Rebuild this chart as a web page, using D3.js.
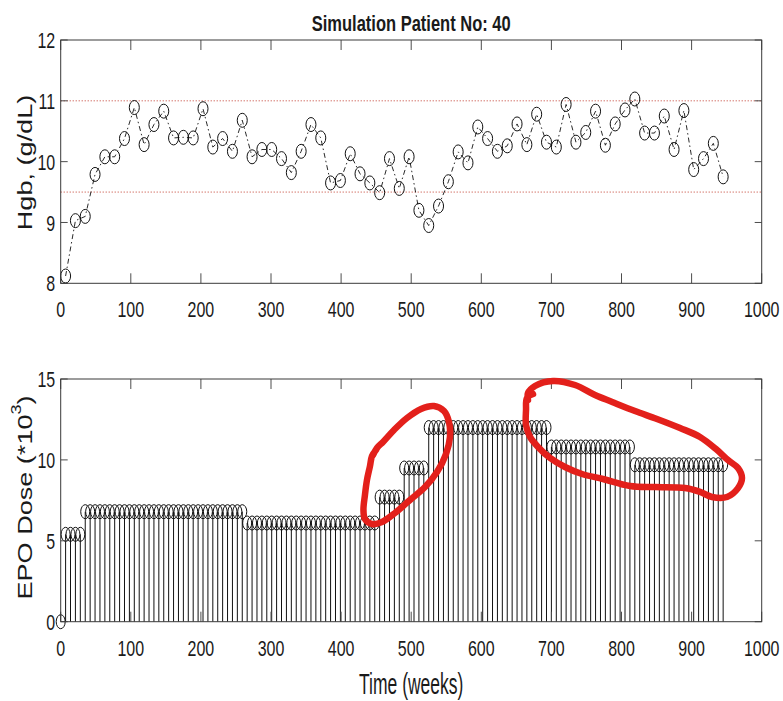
<!DOCTYPE html>
<html>
<head>
<meta charset="utf-8">
<script src="https://cdn.jsdelivr.net/npm/d3@7"></script>
<style>
  html, body { margin: 0; padding: 0; background: #fff; }
  svg { display: block; }
</style>
</head>
<body>
<script>
// ---- Data -------------------------------------------------------------
// Haemoglobin measured every 14 weeks, starting at week 7
const hgbWeeks = d3.range(7, 946, 14);
const hgbValues = [
  8.12, 9.03, 9.10, 9.79, 10.08, 10.08, 10.38, 10.89, 10.28, 10.61,
  10.83, 10.39, 10.40, 10.39, 10.87, 10.24, 10.38, 10.17, 10.68, 10.08,
  10.20, 10.20, 10.05, 9.82, 10.17, 10.61, 10.39, 9.65, 9.69, 10.13,
  9.80, 9.65, 9.49, 10.05, 9.56, 10.08, 9.20, 8.95, 9.27, 9.67,
  10.16, 9.98, 10.57, 10.38, 10.17, 10.26, 10.62, 10.28, 10.78, 10.32,
  10.24, 10.94, 10.32, 10.48, 10.83, 10.27, 10.62, 10.85, 11.03, 10.47,
  10.47, 10.75, 10.20, 10.84, 9.87, 10.05, 10.30, 9.75
];

// EPO dose (x1000 units) given every 7 weeks, starting at week 0
const doseWeeks = d3.range(0, 946, 7);
const doseValues = [
  0,
  5.4, 5.4, 5.4, 5.4,
  6.8, 6.8, 6.8, 6.8, 6.8, 6.8, 6.8, 6.8, 6.8, 6.8, 6.8,
  6.8, 6.8, 6.8, 6.8, 6.8, 6.8, 6.8, 6.8, 6.8, 6.8, 6.8,
  6.8, 6.8, 6.8, 6.8, 6.8, 6.8, 6.8, 6.8, 6.8, 6.8, 6.8,
  6.1, 6.1, 6.1, 6.1, 6.1, 6.1, 6.1, 6.1, 6.1, 6.1, 6.1, 6.1, 6.1, 6.1,
  6.1, 6.1, 6.1, 6.1, 6.1, 6.1, 6.1, 6.1, 6.1, 6.1, 6.1, 6.1, 6.1,
  7.7, 7.7, 7.7, 7.7, 7.7,
  9.5, 9.5, 9.5, 9.5, 9.5,
  12.0, 12.0, 12.0, 12.0, 12.0, 12.0, 12.0, 12.0, 12.0, 12.0, 12.0, 12.0, 12.0,
  12.0, 12.0, 12.0, 12.0, 12.0, 12.0, 12.0, 12.0, 12.0, 12.0, 12.0, 12.0,
  10.8, 10.8, 10.8, 10.8, 10.8, 10.8, 10.8, 10.8, 10.8,
  10.8, 10.8, 10.8, 10.8, 10.8, 10.8, 10.8, 10.8,
  9.7, 9.7, 9.7, 9.7, 9.7, 9.7, 9.7, 9.7, 9.7, 9.7,
  9.7, 9.7, 9.7, 9.7, 9.7, 9.7, 9.7, 9.7, 9.7
];

// Target haemoglobin range
const targetBand = [9.5, 11];

// Axis ticks
const timeTicks = [0, 100, 200, 300, 400, 500, 600, 700, 800, 900, 1000];
const hgbTicks = [8, 9, 10, 11, 12];
const doseTicks = [0, 5, 10, 15];

// Hand-drawn highlight loops, in (week, dose) units
const highlightA = [
  [449.8, 10.61], [444.1, 10.24], [441.2, 9.62], [436.9, 8.76], [434.0, 7.83],
  [431.9, 6.91], [434.0, 6.35], [444.1, 6.04], [458.3, 6.16], [476.9, 6.72],
  [498.3, 7.52], [519.7, 8.32], [536.8, 9.25], [549.6, 10.36], [555.3, 11.41],
  [553.9, 12.34], [546.8, 13.02], [532.5, 13.33], [514.0, 13.15], [494.0, 12.59],
  [475.5, 11.85], [459.8, 11.11], [451.2, 10.74], [445.5, 10.30]
];
const highlightB = [
  [673.8, 14.07], [665.2, 13.83], [663.8, 13.08], [663.8, 12.16], [669.5, 11.42],
  [680.9, 10.80], [698.0, 10.12], [719.4, 9.56], [743.7, 9.13], [773.6, 8.82],
  [812.1, 8.39], [847.8, 8.32], [890.6, 8.26], [912.0, 8.02], [929.1, 7.71],
  [950.5, 7.71], [966.2, 8.26], [971.9, 8.88], [966.2, 9.50], [951.9, 9.99],
  [934.8, 10.67], [912.0, 11.42], [883.5, 11.97], [850.6, 12.53], [819.3, 13.02],
  [786.7, 13.58], [762.2, 14.01], [733.7, 14.63], [702.3, 14.88], [676.6, 14.57],
  [666.6, 14.13], [666.6, 13.70]
];

// ---- Layout -----------------------------------------------------------
const W = 783, H = 701;
const plotLeft = 60.7, plotRight = 761.7;
const top1 = 40, bottom1 = 283.3;
const top2 = 379, bottom2 = 621.7;
const FONT = "'Liberation Sans', Arial, Helvetica, sans-serif";

const svg = d3.select("body").append("svg")
  .attr("width", W).attr("height", H)
  .attr("viewBox", `0 0 ${W} ${H}`);
svg.append("rect").attr("width", W).attr("height", H).attr("fill", "#fff");

const x = d3.scaleLinear().domain([0, 1000]).range([plotLeft, plotRight]);
const y1 = d3.scaleLinear().domain([8, 12]).range([bottom1, top1]);
const y2 = d3.scaleLinear().domain([0, 15]).range([bottom2, top2]);

// Text that is stretched vertically by factor s
function label(g, px, py, str, opt) {
  const o = Object.assign({ size: 15, s: 1.45, anchor: "middle", weight: "normal", rotate: 0 }, opt);
  const t = g.append("text")
    .attr("transform", `translate(${px},${py}) scale(1,${o.s})` + (o.rotate ? ` rotate(${o.rotate})` : ""))
    .attr("text-anchor", o.anchor)
    .attr("font-family", FONT)
    .attr("font-size", o.size)
    .attr("font-weight", o.weight)
    .attr("fill", "#1a1a1a");
  if (typeof str === "string") t.text(str);
  return t;
}

const TICK_SIZE = 16, TICK_S = 1.42;
const tickCap = 0.716 * TICK_SIZE * TICK_S;

function drawFrame(g, yScale, yTicks, top, bottom, xLabelBaseline) {
  const tickV = 10, tickH = 7;
  const tickCol = "#4d4d4d";
  // x ticks (inside, bottom and top)
  g.selectAll(null).data(timeTicks).join("line")
    .attr("x1", d => x(d)).attr("x2", d => x(d))
    .attr("y1", bottom).attr("y2", bottom - tickV)
    .attr("stroke", tickCol).attr("stroke-width", 1);
  g.selectAll(null).data(timeTicks).join("line")
    .attr("x1", d => x(d)).attr("x2", d => x(d))
    .attr("y1", top).attr("y2", top + tickV)
    .attr("stroke", tickCol).attr("stroke-width", 1);
  // y ticks (inside, left and right)
  g.selectAll(null).data(yTicks).join("line")
    .attr("x1", plotLeft).attr("x2", plotLeft + tickH)
    .attr("y1", d => yScale(d)).attr("y2", d => yScale(d))
    .attr("stroke", tickCol).attr("stroke-width", 1);
  g.selectAll(null).data(yTicks).join("line")
    .attr("x1", plotRight).attr("x2", plotRight - tickH)
    .attr("y1", d => yScale(d)).attr("y2", d => yScale(d))
    .attr("stroke", tickCol).attr("stroke-width", 1);
  // box
  g.append("rect")
    .attr("x", plotLeft).attr("y", top)
    .attr("width", plotRight - plotLeft).attr("height", bottom - top)
    .attr("fill", "none").attr("stroke", "#3a3a3a").attr("stroke-width", 1);
  // tick labels
  timeTicks.forEach(d => label(g, x(d), xLabelBaseline, String(d), { size: TICK_SIZE, s: TICK_S }));
  yTicks.forEach(d => label(g, plotLeft - 5.5, yScale(d) + tickCap / 2, String(d),
    { size: TICK_SIZE, s: TICK_S, anchor: "end" }));
}

// ---- Top panel: haemoglobin ---------------------------------------------
const gTop = svg.append("g");

gTop.selectAll(null).data(targetBand).join("line")
  .attr("x1", plotLeft).attr("x2", plotRight)
  .attr("y1", d => y1(d)).attr("y2", d => y1(d))
  .attr("stroke", "#c0392b").attr("stroke-width", 1)
  .attr("stroke-dasharray", "1,2");

const hgbPts = hgbWeeks.map((w, i) => [w, hgbValues[i]]);
gTop.append("path")
  .datum(hgbPts)
  .attr("d", d3.line().x(d => x(d[0])).y(d => y1(d[1])))
  .attr("fill", "none").attr("stroke", "#111").attr("stroke-width", 0.9)
  .attr("stroke-dasharray", "5,3,1.5,3");

gTop.selectAll(null).data(hgbPts).join("ellipse")
  .attr("cx", d => x(d[0])).attr("cy", d => y1(d[1]))
  .attr("rx", 5).attr("ry", 7)
  .attr("fill", "none").attr("stroke", "#111").attr("stroke-width", 1);

drawFrame(gTop, y1, hgbTicks, top1, bottom1, 317);

label(gTop, (plotLeft + plotRight) / 2, 30.5, "Simulation Patient No: 40",
  { size: 16.5, s: 1.38, weight: "bold" });
label(gTop, 31.5, 162.5, "Hgb, (g/dL)", { size: 21, s: 1.29, rotate: -90 });

// ---- Bottom panel: EPO dose stems -------------------------------------------
const gBot = svg.append("g");
const dosePts = doseWeeks.map((w, i) => [w, doseValues[i]]);

gBot.selectAll(null).data(dosePts).join("line")
  .attr("x1", d => x(d[0])).attr("x2", d => x(d[0]))
  .attr("y1", y2(0)).attr("y2", d => y2(d[1]))
  .attr("stroke", "#111").attr("stroke-width", 1);

gBot.selectAll(null).data(dosePts).join("ellipse")
  .attr("cx", d => x(d[0])).attr("cy", d => y2(d[1]))
  .attr("rx", 4.5).attr("ry", 7)
  .attr("fill", "none").attr("stroke", "#111").attr("stroke-width", 1);

drawFrame(gBot, y2, doseTicks, top2, bottom2, 656);

const yl = label(gBot, 31.7, 497.5, null, { size: 21, s: 1.29, rotate: -90 });
yl.append("tspan").text("EPO Dose (*10");
yl.append("tspan").attr("font-size", 14).attr("dy", -11).text("3");
yl.append("tspan").attr("dy", 11).text(")");

label(gBot, (plotLeft + plotRight) / 2, 693.5, "Time (weeks)", { size: 17.5, s: 1.7 });

// ---- Highlight loops ---------------------------------------------------
const loopLine = d3.line()
  .x(d => x(d[0])).y(d => y2(d[1]))
  .curve(d3.curveCatmullRom.alpha(0.5));
svg.append("g").selectAll(null).data([highlightA, highlightB]).join("path")
  .attr("d", loopLine)
  .attr("fill", "none").attr("stroke", "#e3201b").attr("stroke-width", 6.5)
  .attr("stroke-linecap", "round").attr("stroke-linejoin", "round");
</script>
</body>
</html>
